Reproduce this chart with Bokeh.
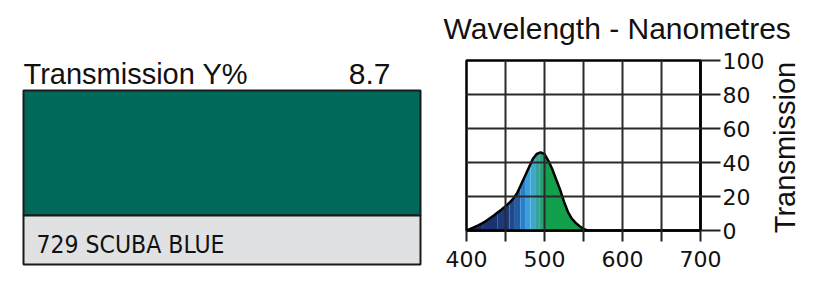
import numpy as np
from bokeh.plotting import figure
from bokeh.layouts import row, column
from bokeh.models import Range1d, FixedTicker
from bokeh.core.properties import value
from bokeh.embed import file_html
from bokeh.resources import INLINE

# ---------------- data ----------------
wavelength_nm = [400, 405, 410, 415, 420, 425, 430, 435, 440, 445, 450, 455, 460,
                 465, 470, 475, 480, 485, 490, 495, 500, 505, 510, 515, 520, 525,
                 530, 535, 540, 545, 550, 555]
transmission_pct = [0, 1.0, 2.0, 3.0, 4.2, 5.6, 7.2, 8.8, 10.6, 12.4, 14.3, 16.3, 18.8,
                    22.0, 27.0, 32.0, 37.0, 42.0, 45.0, 46.0, 45.0, 41.0, 36.0, 30.0, 24.0, 17.0,
                    11.0, 7.0, 4.5, 2.5, 1.0, 0]
x_ticks = [400, 450, 500, 550, 600, 650, 700]
x_tick_labels = {400: "400", 450: "", 500: "500", 550: "", 600: "600", 650: "", 700: "700"}
y_ticks = [0, 20, 40, 60, 80, 100]
band_edges = [400, 420, 440, 455, 462, 469, 476, 482, 488, 494, 500, 555]
band_colors = ["#1a2a64", "#1b3170", "#1c3a7e", "#1e4a8c", "#1f5ea6", "#2a7fc6",
               "#3a9fe0", "#3ca9cc", "#3a9f98", "#2aa078", "#13a04c"]
filter_name = "729 SCUBA BLUE"
transmission_y = "8.7"
swatch_color = "#00695a"
chart_title = "Wavelength - Nanometres"
y_axis_title = "Transmission"

TXT = "#111111"


def blank(width, height):
    f = figure(width=width, height=height, x_range=Range1d(0, width), y_range=Range1d(height, 0),
               x_axis_location=None, y_axis_location=None, toolbar_location=None,
               output_backend="svg", min_border=0, outline_line_color=None)
    f.frame_align = False
    f.grid.visible = False
    return f


# ---------------- left panel ----------------
left = blank(440, 283)
left.quad(left=[23], right=[420], top=[90], bottom=[215], fill_color=swatch_color,
          line_color="#1a1a1a", line_width=2)
left.quad(left=[23], right=[420], top=[215], bottom=[264], fill_color="#e0e1e3",
          line_color="#1a1a1a", line_width=2)
left.text(x=[23], y=[73], text=["Transmission Y%"], text_font=value("Liberation Sans"),
          text_font_size="29px", text_baseline="alphabetic", text_align="left", text_color=TXT)
left.text(x=[390], y=[73], text=[transmission_y], text_font=value("Liberation Sans"),
          text_font_size="30px", text_baseline="alphabetic", text_align="right", text_color=TXT)
left.text(x=[36], y=[244], text=[filter_name],
          text_font=value("'Liberation Sans Narrow', 'DejaVu Sans Condensed', 'Roboto Condensed', Roboto"),
          text_font_size="24.5px", text_baseline="alphabetic", text_align="left", text_color=TXT)

# ---------------- chart title strip ----------------
title_fig = blank(387, 50)
title_fig.text(x=[3], y=[28], text=[chart_title], text_font=value("Liberation Sans"),
               text_font_size="30px", text_baseline="alphabetic", text_align="left", text_color=TXT)

# ---------------- right chart ----------------
p = figure(width=327, height=233, x_range=Range1d(400, 700), y_range=Range1d(0, 100),
           x_axis_location="below", y_axis_location="right", toolbar_location=None,
           output_backend="svg", min_border_left=26, min_border_right=67,
           min_border_top=10, min_border_bottom=53)
p.frame_align = False
p.outline_line_color = "black"
p.outline_line_width = 2.5

wl = np.array(wavelength_nm, dtype=float)
tr = np.array(transmission_pct, dtype=float)
for e0, e1, c in zip(band_edges[:-1], band_edges[1:], band_colors):
    xs = [e0] + [w for w in wavelength_nm if e0 < w < e1] + [e1]
    ys = np.interp(xs, wl, tr)
    p.varea(x=xs, y1=[0] * len(xs), y2=list(ys), fill_color=c)
p.line(wavelength_nm, transmission_pct, line_color="black", line_width=2.5)

p.xgrid.ticker = FixedTicker(ticks=x_ticks)
p.ygrid.ticker = FixedTicker(ticks=y_ticks)
for g in (p.xgrid, p.ygrid):
    g.grid_line_color = "#2a2a2a"
    g.grid_line_width = 2
    g.level = "guide"

xa = p.xaxis[0]
xa.ticker = FixedTicker(ticks=x_ticks)
xa.major_label_overrides = x_tick_labels
xa.major_tick_out = 11
xa.major_tick_in = 0
xa.minor_tick_line_color = None
xa.axis_line_width = 2.5
xa.major_tick_line_width = 2
xa.major_tick_line_color = "#222222"
xa.major_label_text_font = "DejaVu Sans"
xa.major_label_text_font_size = "22px"
xa.major_label_text_color = TXT
xa.major_label_standoff = 9

ya = p.yaxis[0]
ya.ticker = FixedTicker(ticks=y_ticks)
ya.major_tick_out = 20
ya.major_tick_in = 0
ya.minor_tick_line_color = None
ya.axis_line_width = 2.5
ya.major_tick_line_width = 2
ya.major_tick_line_color = "#222222"
ya.major_label_text_font = "DejaVu Sans"
ya.major_label_text_font_size = "22px"
ya.major_label_text_color = TXT
ya.major_label_standoff = 2

# ---------------- y-axis title strip (reads bottom to top) ----------------
label_fig = blank(60, 233)
label_fig.text(x=[17], y=[97], text=[y_axis_title], angle=np.pi / 2,
               text_font=value("Liberation Sans"), text_font_size="29px",
               text_baseline="middle", text_align="center", text_color=TXT)

layout = row(left, column(title_fig, row(p, label_fig)))
open("out.html", "w").write(file_html(layout, INLINE))
